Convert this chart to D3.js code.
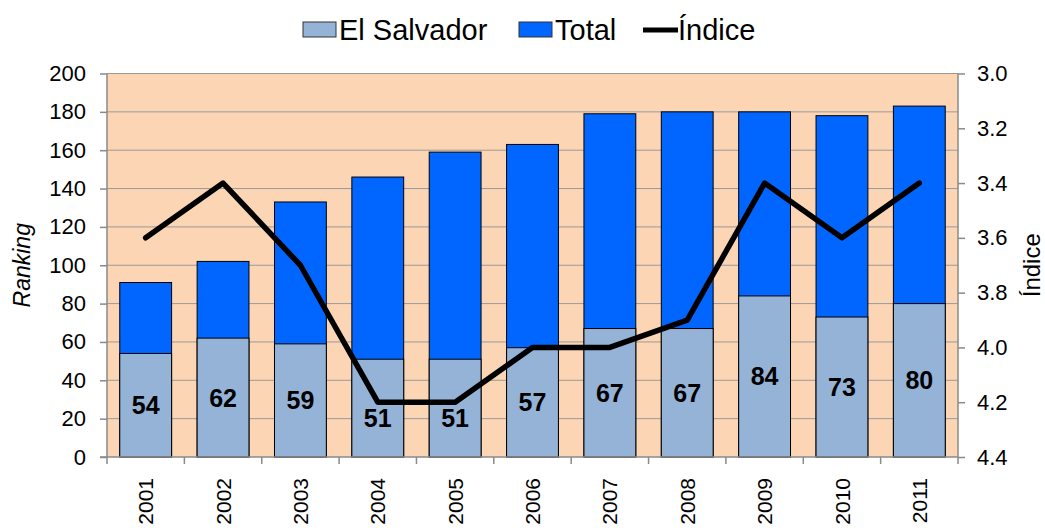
<!DOCTYPE html>
<html>
<head>
<meta charset="utf-8">
<script src="https://cdn.jsdelivr.net/npm/d3@7"></script>
<style>
  body { margin: 0; background: #fff; }
  svg { font-family: "Liberation Sans", Arial, sans-serif; }
</style>
</head>
<body>
<div id="chart"></div>
<script>
// Data
const years = ['2001', '2002', '2003', '2004', '2005', '2006', '2007', '2008', '2009', '2010', '2011'];
const elSalvador = [54, 62, 59, 51, 51, 57, 67, 67, 84, 73, 80];
const total = [91, 102, 133, 146, 159, 163, 179, 180, 180, 178, 183];
const indice = [3.6, 3.4, 3.7, 4.2, 4.2, 4.0, 4.0, 3.9, 3.4, 3.6, 3.4];
const leftTicks = [0, 20, 40, 60, 80, 100, 120, 140, 160, 180, 200];
const rightTicks = [3.0, 3.2, 3.4, 3.6, 3.8, 4.0, 4.2, 4.4];

const W = 1045, H = 528;
const plot = { left: 107, right: 958, top: 73.5, bottom: 457 };
const axisColor = '#8a8a8a';

const svg = d3.select('#chart').append('svg')
    .attr('width', W)
    .attr('height', H);

const x = d3.scaleBand()
    .domain(years)
    .range([plot.left, plot.right])
    .paddingInner(0.33)
    .paddingOuter(0.165);

const y = d3.scaleLinear().domain([0, 200]).range([plot.bottom, plot.top]);
// right axis is reversed: 3.0 on top, 4.4 at the bottom
const y2 = d3.scaleLinear().domain([3.0, 4.4]).range([plot.top, plot.bottom]);

// plot background
svg.append('rect')
    .attr('x', plot.left)
    .attr('y', plot.top)
    .attr('width', plot.right - plot.left)
    .attr('height', plot.bottom - plot.top)
    .attr('fill', '#FCD5B5');

// gridlines
svg.append('g')
    .selectAll('line')
    .data(leftTicks.slice(1))
    .join('line')
    .attr('x1', plot.left)
    .attr('x2', plot.right)
    .attr('y1', d => y(d))
    .attr('y2', d => y(d))
    .attr('stroke', '#9a9a9a')
    .attr('stroke-width', 1);

// Total bars (behind)
svg.append('g')
    .selectAll('rect')
    .data(total)
    .join('rect')
    .attr('x', (d, i) => x(years[i]))
    .attr('y', d => y(d))
    .attr('width', x.bandwidth())
    .attr('height', d => plot.bottom - y(d))
    .attr('fill', '#0066FF')
    .attr('stroke', '#000')
    .attr('stroke-width', 1);

// El Salvador bars (front)
svg.append('g')
    .selectAll('rect')
    .data(elSalvador)
    .join('rect')
    .attr('x', (d, i) => x(years[i]))
    .attr('y', d => y(d))
    .attr('width', x.bandwidth())
    .attr('height', d => plot.bottom - y(d))
    .attr('fill', '#95B3D7')
    .attr('stroke', '#000')
    .attr('stroke-width', 1);

// axes
const leftAxis = d3.axisLeft(y).tickValues(leftTicks).tickSize(7).tickPadding(14);
const gL = svg.append('g')
    .attr('transform', `translate(${plot.left},0)`)
    .call(leftAxis);

const rightAxis = d3.axisRight(y2).tickValues(rightTicks).tickSize(7).tickPadding(12)
    .tickFormat(d3.format('.1f'));
const gR = svg.append('g')
    .attr('transform', `translate(${plot.right},0)`)
    .call(rightAxis);

// bottom axis: ticks at category boundaries
const gB = svg.append('g');
gB.append('line')
    .attr('x1', plot.left - 7)
    .attr('x2', plot.right)
    .attr('y1', plot.bottom)
    .attr('y2', plot.bottom)
    .attr('stroke', axisColor)
    .attr('stroke-width', 1.5);
const step = x.step();
gB.selectAll('line.tick')
    .data(d3.range(years.length + 1))
    .join('line')
    .attr('class', 'tick')
    .attr('x1', i => plot.left + i * step)
    .attr('x2', i => plot.left + i * step)
    .attr('y1', plot.bottom)
    .attr('y2', plot.bottom + 7)
    .attr('stroke', axisColor)
    .attr('stroke-width', 1.5);

gB.selectAll('text')
    .data(years)
    .join('text')
    .attr('transform', d => `translate(${x(d) + x.bandwidth() / 2},478) rotate(-90)`)
    .attr('text-anchor', 'end')
    .attr('dy', '0.36em')
    .attr('font-size', 21)
    .attr('fill', '#000')
    .text(d => d);

[gL, gR].forEach(g => {
    g.select('.domain').attr('stroke', axisColor).attr('stroke-width', 1.5)
        .attr('d', `M0,${plot.top}V${plot.bottom}`);
    g.selectAll('.tick line').attr('stroke', axisColor).attr('stroke-width', 1.5);
    g.selectAll('.tick text').attr('font-size', 22).attr('fill', '#000')
        .attr('font-family', '"Liberation Sans", Arial, sans-serif');
});

// Índice line
const line = d3.line()
    .x((d, i) => x(years[i]) + x.bandwidth() / 2)
    .y(d => y2(d));

svg.append('path')
    .datum(indice)
    .attr('d', line)
    .attr('fill', 'none')
    .attr('stroke', '#000')
    .attr('stroke-width', 5.5)
    .attr('stroke-linejoin', 'round')
    .attr('stroke-linecap', 'round');

// value labels, centred in the light bar; pushed below the line when it would cross it
svg.append('g')
    .selectAll('text')
    .data(elSalvador)
    .join('text')
    .attr('x', (d, i) => x(years[i]) + x.bandwidth() / 2)
    .attr('y', (d, i) => {
        let cy = (y(d) + plot.bottom) / 2;
        const ly = y2(indice[i]);
        if (Math.abs(cy - ly) < 14) cy = ly + 16;
        return cy;
    })
    .attr('dy', '0.36em')
    .attr('text-anchor', 'middle')
    .attr('font-size', 25)
    .attr('font-weight', 'bold')
    .attr('fill', '#000')
    .text(d => d);

// axis titles
svg.append('text')
    .attr('transform', `translate(30,${(plot.top + plot.bottom) / 2}) rotate(-90)`)
    .attr('text-anchor', 'middle')
    .attr('font-size', 23)
    .attr('font-style', 'italic')
    .text('Ranking');

svg.append('text')
    .attr('transform', `translate(1040,${(plot.top + plot.bottom) / 2}) rotate(-90)`)
    .attr('text-anchor', 'middle')
    .attr('font-size', 24)
    .text('Índice');

// legend
const legend = svg.append('g').attr('font-size', 29);
const legendItems = [
    { label: 'El Salvador', type: 'rect', color: '#95B3D7', x: 303 },
    { label: 'Total', type: 'rect', color: '#0066FF', x: 519 },
    { label: 'Índice', type: 'line', color: '#000', x: 643 }
];
legendItems.forEach(item => {
    if (item.type === 'rect') {
        legend.append('rect')
            .attr('x', item.x)
            .attr('y', 22)
            .attr('width', 33)
            .attr('height', 15)
            .attr('fill', item.color)
            .attr('stroke', '#333')
            .attr('stroke-width', 1);
    } else {
        legend.append('line')
            .attr('x1', item.x)
            .attr('x2', item.x + 35)
            .attr('y1', 30)
            .attr('y2', 30)
            .attr('stroke', item.color)
            .attr('stroke-width', 5);
    }
    legend.append('text')
        .attr('x', item.x + (item.type === 'rect' ? 36 : 35))
        .attr('y', 40)
        .attr('fill', '#000')
        .text(item.label);
});
</script>
</body>
</html>
